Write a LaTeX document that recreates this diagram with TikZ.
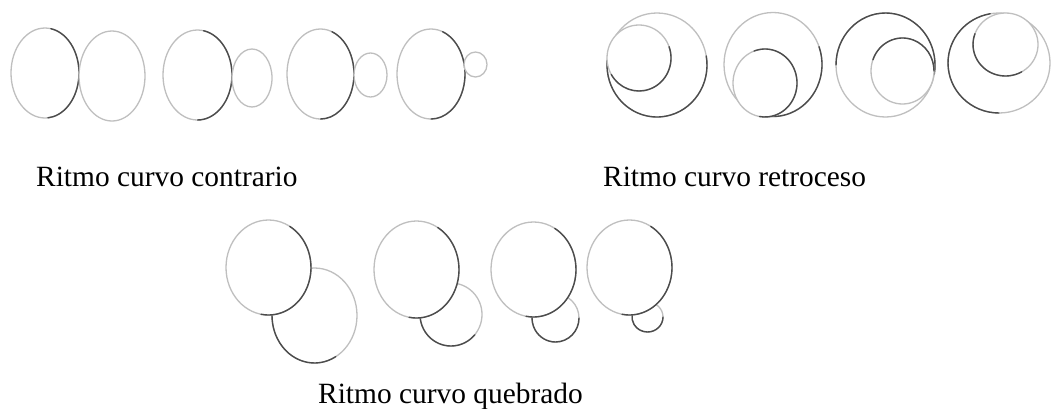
\documentclass[tikz,border=0pt]{standalone}
\usepackage{fontspec}
\setmainfont{Liberation Serif}
\usepackage{xcolor}
\usepackage{tikz}
\usetikzlibrary{positioning, calc}

\begin{document}
\begin{tikzpicture}[x=1pt, y=-1pt,
    ring/.style={draw=gray!50, fill=white, line width=1.3pt},
    darkarc/.style={draw=black!70, line width=1.4pt, line cap=round},
    lbl/.style={font=\fontsize{29.4}{34}\selectfont, anchor=base west, inner sep=0pt}
  ]
  \useasboundingbox (0,0) rectangle (1056,408);

  % --- RITMO CURVO CONTRARIO ---
  \filldraw[ring] (45,73) ellipse[x radius=34, y radius=45];
  \draw[darkarc] (45,73) ++(-80:34 and 45) arc[start angle=-80, end angle=85, x radius=34, y radius=45];
  \filldraw[ring] (112,76) ellipse[x radius=33, y radius=45];

  \filldraw[ring] (197.5,75) ellipse[x radius=34.5, y radius=45];
  \draw[darkarc] (197.5,75) ++(-80:34.5 and 45) arc[start angle=-80, end angle=90, x radius=34.5, y radius=45];
  \filldraw[ring] (252,78) ellipse[x radius=20, y radius=29];

  \filldraw[ring] (320.5,74) ellipse[x radius=33.5, y radius=45];
  \draw[darkarc] (320.5,74) ++(-70:33.5 and 45) arc[start angle=-70, end angle=90, x radius=33.5, y radius=45];
  \filldraw[ring] (370.5,75) ellipse[x radius=16.5, y radius=22];

  \filldraw[ring] (431,74) ellipse[x radius=34, y radius=45];
  \draw[darkarc] (431,74) ++(-70:34 and 45) arc[start angle=-70, end angle=90, x radius=34, y radius=45];
  \filldraw[ring] (475.5,64.5) ellipse[x radius=11.5, y radius=12.5];

  \node[lbl] (contrario) at (36,186) {Ritmo curvo contrario};

  % --- RITMO CURVO RETROCESO ---
  \filldraw[ring] (657,65) ellipse[x radius=50, y radius=52];
  \draw[darkarc] (657,65) ++(-10:50 and 52) arc[start angle=-10, end angle=185, x radius=50, y radius=52];
  \filldraw[ring] (639,58) ellipse[x radius=32, y radius=33];
  \draw[darkarc] (639,58) ++(-20:32 and 33) arc[start angle=-20, end angle=150, x radius=32, y radius=33];

  \filldraw[ring] (773,64.5) ellipse[x radius=49, y radius=52];
  \draw[darkarc] (773,64.5) ++(-20:49 and 52) arc[start angle=-20, end angle=100, x radius=49, y radius=52];
  \filldraw[ring] (765,83) ellipse[x radius=32, y radius=34];
  \draw[darkarc] (765,83) ++(-110:32 and 34) arc[start angle=-110, end angle=100, x radius=32, y radius=34];

  \filldraw[ring] (885.5,65) ellipse[x radius=49.5, y radius=52];
  \draw[darkarc] (885.5,65) ++(180:49.5 and 52) arc[start angle=180, end angle=370, x radius=49.5, y radius=52];
  \filldraw[ring] (902.5,71) ellipse[x radius=31.5, y radius=33];
  \draw[darkarc] (902.5,71) ++(200:31.5 and 33) arc[start angle=200, end angle=360, x radius=31.5, y radius=33];

  \filldraw[ring] (999,63) ellipse[x radius=51, y radius=50];
  \draw[darkarc] (999,63) ++(90:51 and 50) arc[start angle=90, end angle=260, x radius=51, y radius=50];
  \filldraw[ring] (1005.5,44.5) ellipse[x radius=32.5, y radius=31.5];
  \draw[darkarc] (1005.5,44.5) ++(60:32.5 and 31.5) arc[start angle=60, end angle=200, x radius=32.5, y radius=31.5];

  \node[lbl] (retroceso) at (603,186) {Ritmo curvo retroceso};

  % --- RITMO CURVO QUEBRADO ---
  \filldraw[ring] (314.5,315.5) ellipse[x radius=42.5, y radius=47.5];
  \draw[darkarc] (314.5,315.5) ++(60:42.5 and 47.5) arc[start angle=60, end angle=190, x radius=42.5, y radius=47.5];
  \filldraw[ring] (268.5,267.5) ellipse[x radius=42.5, y radius=47.5];
  \draw[darkarc] (268.5,267.5) ++(-60:42.5 and 47.5) arc[start angle=-60, end angle=100, x radius=42.5, y radius=47.5];

  \filldraw[ring] (451,314.5) ellipse[x radius=31, y radius=31.5];
  \draw[darkarc] (451,314.5) ++(40:31 and 31.5) arc[start angle=40, end angle=190, x radius=31, y radius=31.5];
  \filldraw[ring] (416.5,269.5) ellipse[x radius=42.5, y radius=48.5];
  \draw[darkarc] (416.5,269.5) ++(-60:42.5 and 48.5) arc[start angle=-60, end angle=100, x radius=42.5, y radius=48.5];

  \filldraw[ring] (555.5,318) ellipse[x radius=23.5, y radius=24];
  \draw[darkarc] (555.5,318) ++(0:23.5 and 24) arc[start angle=0, end angle=190, x radius=23.5, y radius=24];
  \filldraw[ring] (533.5,269.5) ellipse[x radius=42.5, y radius=47.5];
  \draw[darkarc] (533.5,269.5) ++(-60:42.5 and 47.5) arc[start angle=-60, end angle=100, x radius=42.5, y radius=47.5];

  \filldraw[ring] (647.5,317) ellipse[x radius=15.5, y radius=15];
  \draw[darkarc] (647.5,317) ++(0:15.5 and 15) arc[start angle=0, end angle=190, x radius=15.5, y radius=15];
  \filldraw[ring] (629.5,267.5) ellipse[x radius=42.5, y radius=47.5];
  \draw[darkarc] (629.5,267.5) ++(-60:42.5 and 47.5) arc[start angle=-60, end angle=100, x radius=42.5, y radius=47.5];

  \node[lbl] (quebrado) at (318,403) {Ritmo curvo quebrado};
\end{tikzpicture}
\end{document}
